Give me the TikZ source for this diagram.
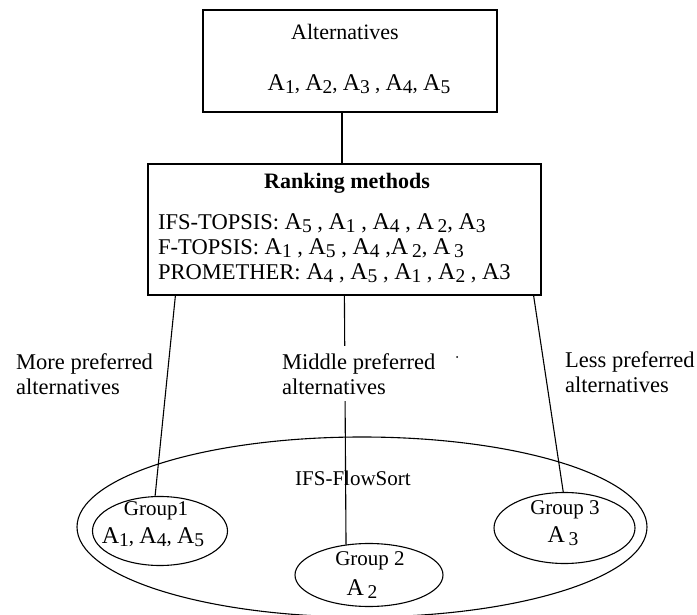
\documentclass[tikz,border=0pt]{standalone}
\usepackage{fontspec}
\setmainfont{Liberation Serif}
\usetikzlibrary{shapes.geometric}
\newcommand\Asb[1]{{\fontsize{24}{24}\selectfont A}\raisebox{-3.5pt}{\fontsize{19.5}{19.5}\selectfont #1}}
\newcommand\Asp[1]{{\fontsize{24}{24}\selectfont A}\,\raisebox{-3.5pt}{\fontsize{19.5}{19.5}\selectfont #1}}
\begin{document}
\begin{tikzpicture}[x=1pt,y=-1pt,
  box/.style={draw, line width=1.2pt, inner sep=0pt},
  ell/.style={draw, ellipse, line width=1.1pt, inner sep=0pt},
  txt/.style={inner sep=0pt, font=\fontsize{21}{25}\selectfont},
  rtxt/.style={inner sep=0pt, anchor=west, font=\fontsize{22.5}{25}\selectfont},
  lbl/.style={inner sep=0pt, align=left, font=\fontsize{22.5}{25}\selectfont},
  con/.style={line width=1.1pt}]
\useasboundingbox (0,0) rectangle (697,615);
% boxes
\node[box, minimum width=294pt, minimum height=102pt] (alt) at (350,61) {};
\node[txt, font=\fontsize{22}{25}\selectfont] (altt) at (345,32) {Alternatives};
\node[txt] (alts) at (359,84) {\Asb{1}, \Asb{2}, \Asb{3} , \Asb{4}, \Asb{5}};
\node[box, minimum width=393pt, minimum height=131pt] (rank) at (344.5,229.5) {};
\node[txt, font=\fontsize{22}{25}\selectfont\bfseries] (rankt) at (347,183) {Ranking methods};
\node[rtxt] (r1) at (158,223) {IFS-TOPSIS: \Asb{5} , \Asb{1} , \Asb{4} , \Asp{2}, \Asb{3}};
\node[rtxt] (r2) at (158,248) {F-TOPSIS: \Asb{1} , \Asb{5} , \Asb{4} ,\Asp{2}, \Asp{3}};
\node[rtxt] (r3) at (158,273) {PROMETHER: \Asb{4} , \Asb{5} , \Asb{1} , \Asb{2} , {\fontsize{24}{24}\selectfont A}3};
% ellipses
\node[ell, minimum width=570pt, minimum height=180pt] (flow) at (362,527) {};
\node[txt] (flowt) at (353,478) {IFS-FlowSort};
\node[ell, minimum width=135pt, minimum height=69pt] (g1) at (160,531) {};
\node[txt] (g1a) at (156,511) {Group1};
\node[txt] (g1b) at (153,537) {\Asb{1}, \Asb{4}, \Asb{5}};
\node[ell, minimum width=148pt, minimum height=63pt] (g2) at (369,575) {};
\node[txt] (g2a) at (370,561) {Group 2};
\node[txt] (g2b) at (362,589) {\Asp{2}};
\node[ell, minimum width=141pt, minimum height=71pt] (g3) at (564.5,528) {};
\node[txt] (g3a) at (565,510) {Group 3};
\node[txt] (g3b) at (563,536) {\Asp{3}};
% connectors
\draw[con] ([xshift=-8pt]alt.south) -- ([xshift=-8pt]alt.south |- rank.north);
\draw[con] ([xshift=28pt]rank.south west) -- (g1.98);
\draw[con] ([xshift=197pt]rank.south west) -- (g2.127);
\draw[con] ([xshift=-8pt]rank.south east) -- (g3.92);
% labels
\node[lbl, anchor=north west] (more) at (16,353) {More preferred\\alternatives};
\node[lbl, anchor=north west, fill=white, inner xsep=2pt, inner ysep=7pt] (mid) at (280,346) {Middle preferred\\alternatives};
\node[lbl, anchor=north west] (less) at (565,351) {Less preferred\\alternatives};
\fill (457,357) circle (1pt);
\end{tikzpicture}
\end{document}
